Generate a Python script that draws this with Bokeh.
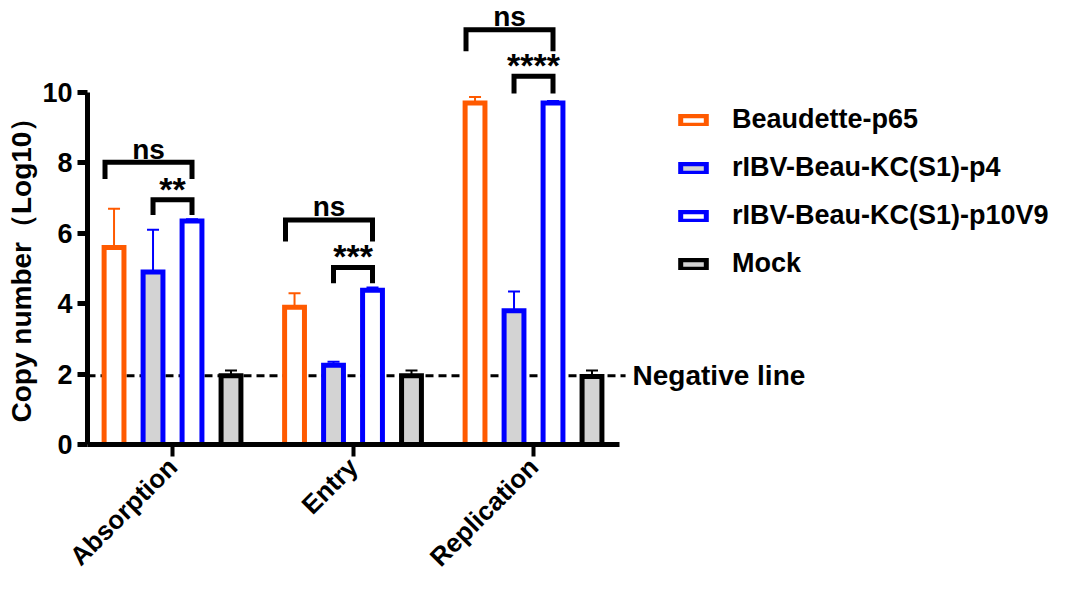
import math
from bokeh.plotting import figure
from bokeh.models import (Range1d, FixedTicker, ColumnDataSource, Whisker, TeeHead,
                          Legend, LegendItem, Title)
from bokeh.core.properties import value
from bokeh.embed import file_html
from bokeh.resources import INLINE

# ---------------- data ----------------
groups = ["Absorption", "Entry", "Replication"]
series_names = ["Beaudette-p65", "rIBV-Beau-KC(S1)-p4", "rIBV-Beau-KC(S1)-p10V9", "Mock"]

beaudette_mean = [5.6, 3.9, 9.7]
beaudette_err = [1.1, 0.4, 0.17]
p4_mean = [4.9, 2.25, 3.8]
p4_err = [1.2, 0.1, 0.55]
p10v9_mean = [6.35, 4.38, 9.7]
p10v9_err = [0.05, 0.08, 0.06]
mock_mean = [1.95, 1.95, 1.93]
mock_err = [0.15, 0.15, 0.17]

negative_line = 1.95
negative_label = "Negative line"
y_ticks = [0, 2, 4, 6, 8, 10]
y_label = "Copy number（Log10）"

# significance comparisons
cmp_group = [0, 0, 1, 1, 2, 2]
cmp_left = [0, 1, 0, 1, 0, 1]
cmp_right = [2, 2, 2, 2, 2, 2]
cmp_top = [8.02, 6.95, 6.38, 5.03, 11.78, 10.46]
cmp_bottom = [7.54, 6.52, 5.77, 4.58, 11.17, 9.97]
cmp_label = ["ns", "**", "ns", "***", "ns", "****"]

means = [beaudette_mean, p4_mean, p10v9_mean, mock_mean]
errs = [beaudette_err, p4_err, p10v9_err, mock_err]

# ---------------- style ----------------
FONT = "Liberation Sans"
line_colors = ["#FF5A00", "#0000FF", "#0000FF", "#000000"]
fill_colors = ["#FFFFFF", "#D3D3D3", "#FFFFFF", "#D3D3D3"]
offsets = [-0.324, -0.108, 0.108, 0.324]
bar_w = 0.11
FW, FH = 984, 444
X0 = -0.471
X1 = X0 + FW / 180.5
Y1 = FH / 35.2
AXIS_END = 2.476
NEG_END = 2.51

p = figure(frame_width=FW, height=585, x_range=Range1d(X0, X1), y_range=Range1d(0, Y1),
           output_backend="svg", toolbar_location=None,
           min_border_left=84, min_border_right=0, min_border_top=0, min_border_bottom=141)
p.outline_line_color = None
p.xgrid.visible = False
p.ygrid.visible = False
p.background_fill_color = "white"

# negative line (behind bars)
p.line(x=[X0, NEG_END], y=[negative_line, negative_line], line_color="black",
       line_width=3, line_dash="8 5")
p.text(x=[NEG_END], y=[negative_line], text=[negative_label], text_font=value(FONT),
       text_font_style="bold", text_font_size="28px", text_align="left",
       text_baseline="middle", x_offset=7, text_color="black")

renderers = []
for i in range(4):
    xs = [g + offsets[i] for g in range(len(groups))]
    src = ColumnDataSource(dict(x=xs, top=means[i],
                                upper=[m + e for m, e in zip(means[i], errs[i])]))
    r = p.vbar(x="x", top="top", bottom=0, width=bar_w, source=src,
               fill_color=fill_colors[i], line_color=line_colors[i], line_width=5,
               line_join="miter")
    renderers.append(r)
    w = Whisker(source=src, base="x", upper="upper", lower="top", dimension="height",
                line_color=line_colors[i], line_width=2,
                upper_head=TeeHead(size=12, line_color=line_colors[i], line_width=2),
                lower_head=None)
    p.add_layout(w)

# brackets
bxs, bys, tx, ty, tyoff, tsize = [], [], [], [], [], []
for g, l, r_, t, b, lab in zip(cmp_group, cmp_left, cmp_right, cmp_top, cmp_bottom, cmp_label):
    xl = g + offsets[l] + (-0.05 if lab == "ns" else 0.0)
    xr = g + offsets[r_]
    bxs.append([xl, xl, xr, xr])
    bys.append([b, t, t, b])
    tx.append((xl + xr) / 2)
    ty.append(t)
    if lab == "ns":
        tyoff.append(-13)
        tsize.append("28px")
    else:
        tyoff.append(-11)
        tsize.append("34px")
p.multi_line(xs=bxs, ys=bys, line_color="black", line_width=5, line_join="miter",
             line_cap="butt")
tsrc = ColumnDataSource(dict(x=tx, y=ty, text=cmp_label, yoff=tyoff, size=tsize))
p.text(x="x", y="y", text="text", source=tsrc, y_offset="yoff", text_font_size="size",
       text_font=value(FONT), text_font_style="bold", text_align="center",
       text_baseline="alphabetic", text_color="black")

# axes
ya = p.yaxis[0]
ya.ticker = FixedTicker(ticks=y_ticks)
ya.bounds = (0, 10)
ya.axis_line_width = 5
ya.major_tick_line_width = 5
ya.major_tick_out = 10
ya.major_tick_in = 0
ya.minor_tick_line_color = None
ya.major_label_text_font = FONT
ya.major_label_text_font_style = "bold"
ya.major_label_text_font_size = "27px"
ya.major_label_text_color = "black"
ya.major_label_standoff = 5

# y-axis title, placed along the 0-10 part of the axis
ytitle = Title(text=y_label, align="left", offset=22, standoff=6,
               text_font=FONT, text_font_style="bold", text_font_size="28px",
               text_color="black")
p.add_layout(ytitle, "left")

xa = p.xaxis[0]
xa.ticker = FixedTicker(ticks=list(range(len(groups))))
xa.major_label_overrides = {i: g for i, g in enumerate(groups)}
xa.bounds = (X0, AXIS_END)
xa.axis_line_width = 5
xa.major_tick_line_width = 4
xa.major_tick_out = 12
xa.major_tick_in = 0
xa.minor_tick_line_color = None
xa.major_label_orientation = math.pi / 4
xa.major_label_text_font = FONT
xa.major_label_text_font_style = "bold"
xa.major_label_text_font_size = "26px"
xa.major_label_text_color = "black"
xa.major_label_standoff = 6

# legend
items = [LegendItem(label=n, renderers=[r]) for n, r in zip(series_names, renderers)]
legend = Legend(items=items, location=(590, 165), orientation="vertical",
                glyph_width=32, glyph_height=12, label_standoff=23, spacing=17,
                label_height=30, padding=0, margin=0,
                label_text_font=FONT, label_text_font_style="bold",
                label_text_font_size="27px", label_text_color="black",
                border_line_color=None, background_fill_alpha=0)
p.add_layout(legend)

open("out.html", "w").write(file_html(p, INLINE))
